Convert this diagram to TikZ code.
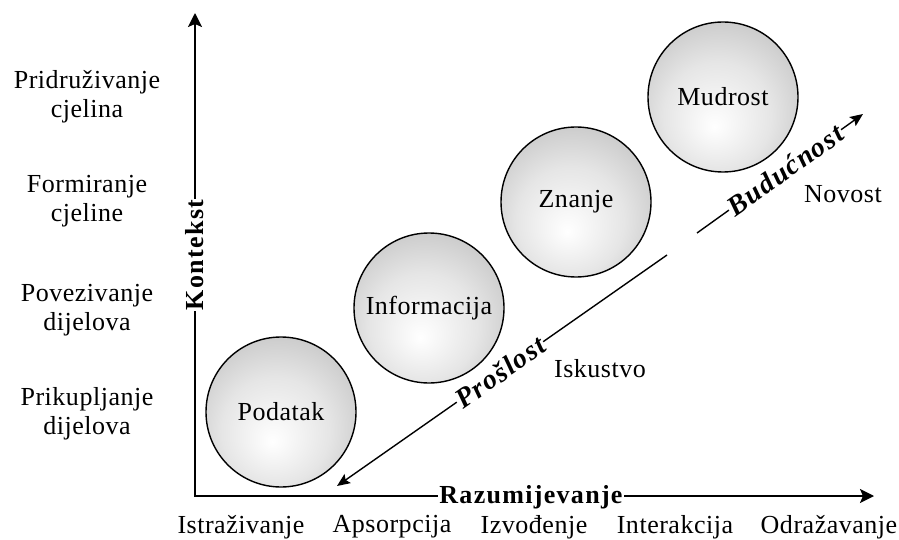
\documentclass[tikz,border=0pt]{standalone}
\usepackage{fontspec}
\setmainfont{Liberation Serif}[LetterSpace=2]
\newfontfamily\lblfont{Liberation Serif}[LetterSpace=5]
\usetikzlibrary{arrows.meta}
\pgfdeclareradialshading{ballshade}{\pgfpoint{-3bp}{-10bp}}{color(0bp)=(white); color(18bp)=(black!10); color(34bp)=(black!24); color(50bp)=(black!42)}
\tikzset{
  sphere/.style={circle, draw, line width=1.4pt, minimum size=150pt, inner sep=0pt, shading=ballshade, font=\fontsize{26}{29}\selectfont},
  txt/.style={font=\fontsize{26}{29}\selectfont, inner sep=0pt, align=center},
  btxt/.style={font=\lblfont\bfseries\fontsize{26}{29}\selectfont, inner sep=1pt, fill=white},
  bitxt/.style={font=\lblfont\bfseries\itshape\fontsize{28}{29}\selectfont, inner sep=1pt, fill=white},
  axline/.style={line width=2pt, {Stealth[length=14pt,width=14pt,inset=3pt]}-{Stealth[length=14pt,width=14pt,inset=3pt]}},
  diag/.style={line width=1.4pt, -{Stealth[length=13pt,width=11pt,inset=2.5pt]}},
}
\begin{document}
\begin{tikzpicture}[x=1pt,y=-1pt]
\useasboundingbox (0,0) rectangle (899,540);
% axes
\coordinate (O) at (195,496);
\coordinate (Ytop) at (195,13);
\coordinate (Xend) at (874,496);
\draw[axline] (Ytop) -- (O) -- (Xend);
\node[btxt, rotate=90] (kon) at (195,255) {Kontekst};
\node[btxt] (raz) at (531,497) {Razumijevanje};
% spheres
\node[sphere] (pod) at (281,412) {Podatak};
\node[sphere] (inf) at (429,308) {Informacija};
\node[sphere] (zna) at (576,202) {Znanje};
\node[sphere] (mud) at (723,97) {Mudrost};
% diagonal arrows
\coordinate (pl) at (337,486);
\coordinate (g1) at (667,255);
\coordinate (g2) at (697,233);
\coordinate (pr) at (863,114);
\draw[diag] (g1) -- (pl);
\draw[diag] (g2) -- (pr);
\node[bitxt, rotate=35.2] (pro) at (500,372) {Prošlost};
\node[bitxt, rotate=35.5] (bud) at (785,170) {Budućnost};
\node[txt] (isk) at (600,369) {Iskustvo};
\node[txt] (nov) at (843,194) {Novost};
% left labels
\node[txt] (l1) at (87,97) {Pridruživanje\\cjelina};
\node[txt] (l2) at (87,201) {Formiranje\\cjeline};
\node[txt] (l3) at (87,310) {Povezivanje\\dijelova};
\node[txt] (l4) at (87,414) {Prikupljanje\\dijelova};
% bottom labels
\node[txt] (b1) at (241,527) {Istraživanje};
\node[txt] (b2) at (392,527) {Apsorpcija};
\node[txt] (b3) at (534,527) {Izvođenje};
\node[txt] (b4) at (675,527) {Interakcija};
\node[txt] (b5) at (829,527) {Odražavanje};
\end{tikzpicture}
\end{document}
